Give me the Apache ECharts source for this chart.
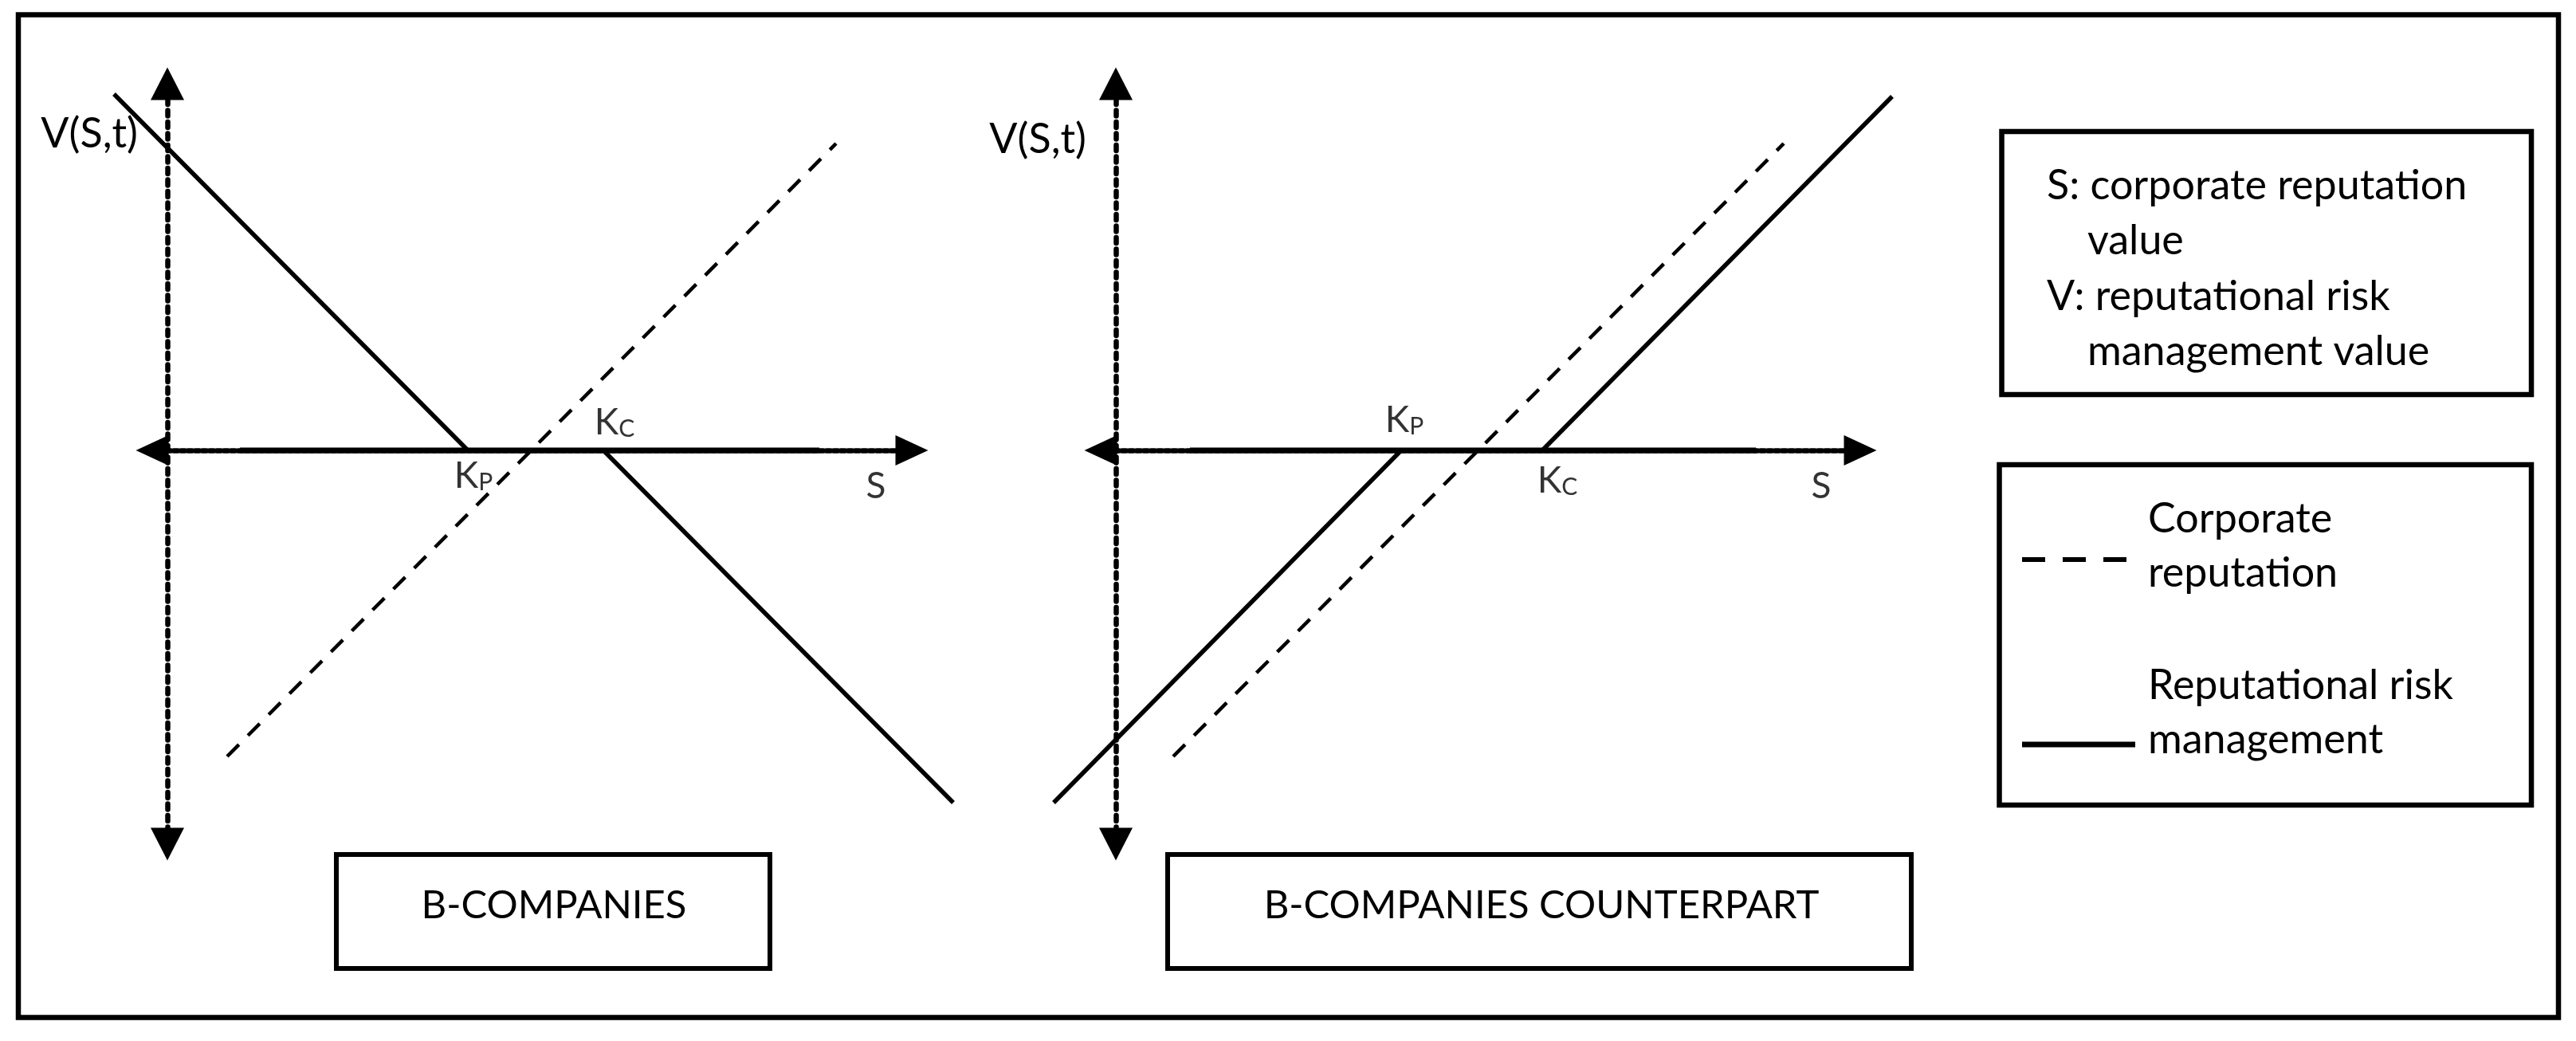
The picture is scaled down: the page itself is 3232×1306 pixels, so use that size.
<!DOCTYPE html>
<html>
<head>
<meta charset="utf-8">
<script src="https://cdn.jsdelivr.net/npm/echarts/dist/echarts.min.js"></script>
<style>
  html, body { margin: 0; padding: 0; background: #fff; }
  #main { width: 3232px; height: 1306px; }
</style>
</head>
<body>
<div id="main"></div>
<script>
    var chartDom = document.getElementById('main');
    var myChart = echarts.init(chartDom);
    var font = 'Lato, "Open Sans", sans-serif';

    // axis extents, same for both panels (S to the right, V upward)
    var sRange = [-19, 934];
    var vRange = [-494, 460];
    // wider S range for the lines, they run past the arrow heads
    var sDataRange = [-100, 1000];

    // B-COMPANIES (left panel)
    var bStrikes = [377, 547];   // K_P, K_C
    var bRiskMgmt = [[-67, 447], [377, 0], [547, 0], [986, -442]];
    var bReputation = [[75, -384], [839, 385]];
    var bAxisSolid = [[91, 0], [818, 0]];

    // B-COMPANIES COUNTERPART (right panel)
    var cStrikes = [358, 535];
    var cRiskMgmt = [[-78, -442], [358, 0], [535, 0], [974, 444]];
    var cReputation = [[72, -384], [838, 385]];
    var cAxisSolid = [[93, 0], [803, 0]];

    var panelTitles = ['B-COMPANIES', 'B-COMPANIES COUNTERPART'];
    var keyLines = ['S: corporate reputation', 'value', 'V: reputational risk', 'management value'];
    var legendNames = [['Corporate', 'reputation'], ['Reputational risk', 'management']];

    var hidden = { axisLine: { show: false }, axisTick: { show: false }, axisLabel: { show: false }, splitLine: { show: false } };

    // visible axes with arrow heads (grids 0 and 1)
    function arrowAxes(i, vGap) {
        var x = {
            type: 'value', gridIndex: i, min: sRange[0], max: sRange[1],
            axisLine: { show: true, onZero: true, symbol: ['triangle', 'triangle'], symbolSize: [38, 41],
                lineStyle: { color: '#000', width: 6.5, type: [5, 4] } },
            axisTick: { show: false }, axisLabel: { show: false }, splitLine: { show: false }
        };
        var y = {
            type: 'value', gridIndex: i, min: vRange[0], max: vRange[1],
            name: 'V(S,t)', nameLocation: 'end', nameGap: vGap,
            nameTextStyle: { fontFamily: font, fontSize: 52, color: '#000', align: 'right', verticalAlign: 'middle', padding: [0, 37, 0, 0] },
            axisLine: { show: true, onZero: true, symbol: ['triangle', 'triangle'], symbolSize: [42, 41],
                lineStyle: { color: '#000', width: 6.5, type: [7, 7.5] } },
            axisTick: { show: false }, axisLabel: { show: false }, splitLine: { show: false }
        };
        return [x, y];
    }

    // same scale, wider S span, for the lines (grids 2 and 3)
    function dataAxes(i) {
        return [
            Object.assign({ type: 'value', gridIndex: i, min: sDataRange[0], max: sDataRange[1] }, hidden),
            Object.assign({ type: 'value', gridIndex: i, min: vRange[0], max: vRange[1] }, hidden)
        ];
    }

    function panelSeries(i, risk, rep, solid, strikes, offsets, sOffset) {
        var base = { xAxisIndex: i, yAxisIndex: i, symbol: 'none', silent: true };
        return [
            Object.assign({ type: 'line', data: solid, lineStyle: { color: '#000', width: 7 } }, base),
            Object.assign({ type: 'line', data: rep, lineStyle: { color: '#000', width: 4.5, type: [21, 16] } }, base),
            Object.assign({ type: 'line', data: risk, lineStyle: { color: '#000', width: 5.5 } }, base),
            {
                type: 'scatter', xAxisIndex: i, yAxisIndex: i, symbolSize: 0, silent: true,
                data: [
                    { value: [strikes[0], 0], name: '{k|K}{s|P}', label: { offset: offsets[0] } },
                    { value: [strikes[1], 0], name: '{k|K}{s|C}', label: { offset: offsets[1] } },
                    { value: [sRange[1], 0], name: '{k|S}', label: { offset: sOffset } }
                ],
                label: {
                    show: true, position: 'inside',
                    formatter: function (p) { return p.name; },
                    rich: {
                        k: { fontFamily: font, fontSize: 46, color: '#000' },
                        s: { fontFamily: font, fontSize: 30, color: '#000', verticalAlign: 'bottom' }
                    }
                }
            }
        ];
    }

    var ax0 = arrowAxes(0, -63);
    var ax1 = arrowAxes(1, -70);
    var ax2 = dataAxes(2);
    var ax3 = dataAxes(3);

    function txt(s, x, y, align, size) {
        return { type: 'text', x: x, y: y, silent: true,
            style: { text: s, fontFamily: font, fontSize: size, fill: '#000',
                align: align, textAlign: align, verticalAlign: 'middle', textVerticalAlign: 'middle' } };
    }
    function box(x, y, w, h, lw) {
        return { type: 'rect', silent: true, shape: { x: x, y: y, width: w, height: h },
            style: { fill: 'none', stroke: '#000', lineWidth: lw } };
    }

    var graphics = [
        box(23, 18.5, 3187, 1258, 6.5),
        box(422, 1072, 544, 143, 6),
        txt(panelTitles[0], 695, 1136, 'center', 49),
        box(1465, 1072, 933, 143, 6),
        txt(panelTitles[1], 1934, 1136, 'center', 49),
        box(2511.5, 165, 664.5, 330, 6.5),
        txt(keyLines[0], 2568, 233, 'left', 52),
        txt(keyLines[1], 2619, 302, 'left', 52),
        txt(keyLines[2], 2568, 372, 'left', 52),
        txt(keyLines[3], 2619, 441, 'left', 52),
        box(2508.5, 583, 667.5, 427, 6.5),
        { type: 'line', silent: true, shape: { x1: 2537, y1: 702, x2: 2668, y2: 702 },
          style: { stroke: '#000', lineWidth: 6, lineDash: [29, 22] } },
        { type: 'line', silent: true, shape: { x1: 2537, y1: 934, x2: 2679, y2: 934 },
          style: { stroke: '#000', lineWidth: 7 } },
        txt(legendNames[0][0], 2695, 651, 'left', 52),
        txt(legendNames[0][1], 2695, 719, 'left', 52),
        txt(legendNames[1][0], 2695, 860, 'left', 52),
        txt(legendNames[1][1], 2695, 928, 'left', 52)
    ];

    var option = {
        backgroundColor: '#fff',
        animation: false,
        grid: [
            { left: 191, top: 105, width: 953, height: 954 },
            { left: 1381, top: 105, width: 953, height: 954 },
            { left: 110, top: 105, width: 1100, height: 954 },
            { left: 1300, top: 105, width: 1100, height: 954 }
        ],
        xAxis: [ax0[0], ax1[0], ax2[0], ax3[0]],
        yAxis: [ax0[1], ax1[1], ax2[1], ax3[1]],
        series: []
            .concat(panelSeries(2, bRiskMgmt, bReputation, bAxisSolid, bStrikes, [[7, 32], [14, -35]], [-45, 45]))
            .concat(panelSeries(3, cRiskMgmt, cReputation, cAxisSolid, cStrikes, [[4, -38], [19, 38]], [-49, 45])),
        graphic: { elements: graphics }
    };

    option && myChart.setOption(option);
</script>
</body>
</html>
